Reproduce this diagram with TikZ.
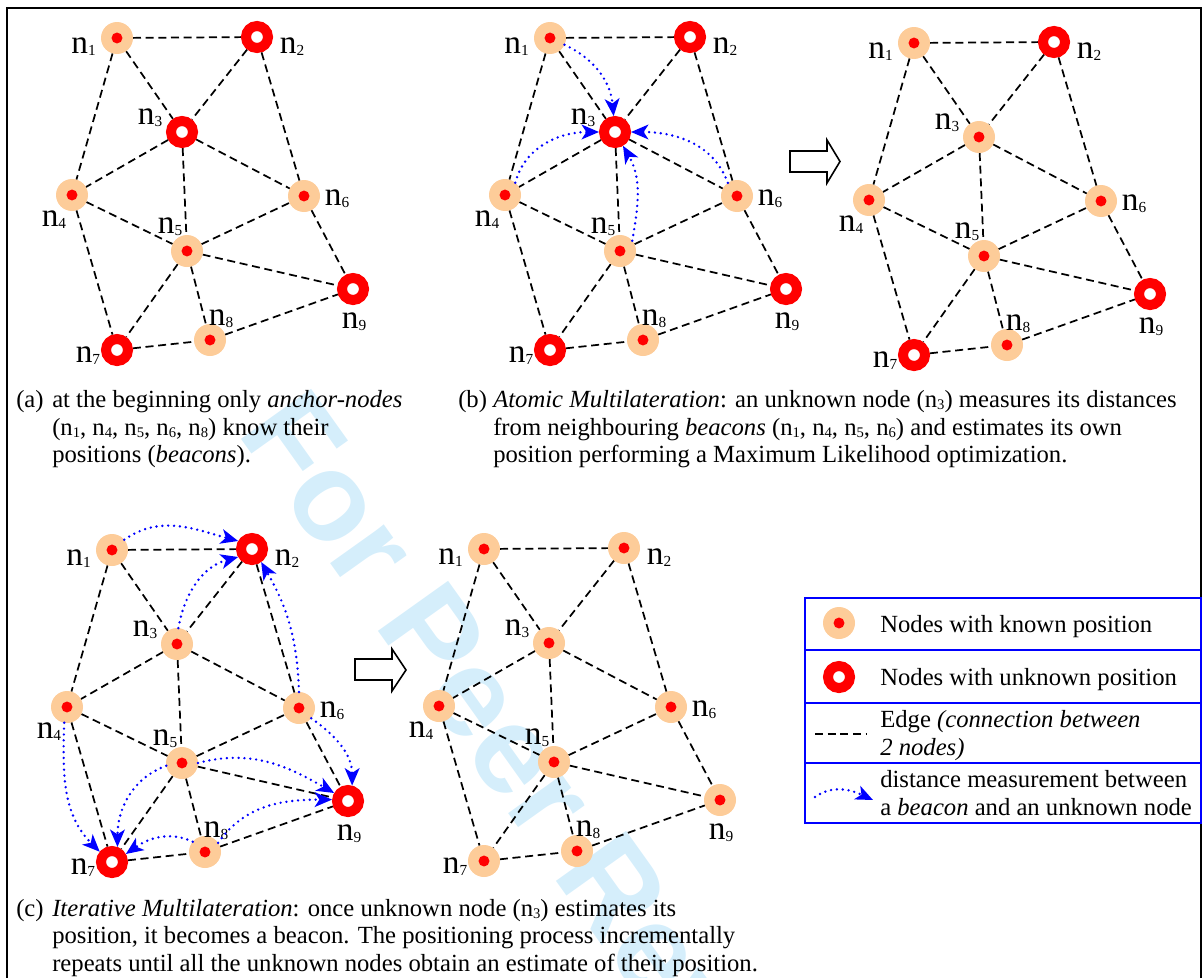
\documentclass[tikz,border=0pt]{standalone}
\usepackage{fontspec}
\setmainfont{Liberation Serif}
\newfontfamily\wmfont{Liberation Sans}
\usetikzlibrary{arrows.meta,backgrounds}
\definecolor{peach}{RGB}{253,204,153}
\definecolor{wmblue}{RGB}{213,238,251}
\newcommand\nsub[1]{n\raisebox{-2pt}{\fontsize{11.5}{12}\selectfont #1}}
\newcommand\csub[1]{\raisebox{-1.5pt}{\fontsize{11}{11}\selectfont #1}}
\def\NX{{117,257,182,72,187,304,117,210,353}}
\def\NY{{38,37,132,195,251,196,350,340,289}}
\def\LX{{-33.5,35,-32,-18,-17,33,-29,11,1}}
\def\LY{{15,16,-8,31,-18,9,12,-15,39}}
\newcommand\drawpanel[3]{%
  \begin{scope}[shift={#2}]
  \foreach \i/\st in {#3}{%
    \pgfmathsetmacro\px{\NX[\i-1]}\pgfmathsetmacro\py{\NY[\i-1]}%
    \pgfmathsetmacro\lx{\px+\LX[\i-1]}\pgfmathsetmacro\ly{\py+\LY[\i-1]}%
    \edef\doit{\noexpand\node[\st] (#1\i) at (\px,\py) {};}\doit
    \node[lab] (#1l\i) at (\lx,\ly) {\nsub{\i}};
  }
  \end{scope}}
\newcommand\drawedges[1]{%
  \foreach \u/\v in {1/2,1/3,1/4,2/3,2/6,3/4,3/5,3/6,4/5,4/7,5/6,5/7,5/8,5/9,6/9,7/8,8/9}{%
    \draw[link] (#1\u) -- (#1\v);}}
\begin{document}
\begin{tikzpicture}[x=0.75pt,y=-0.75pt,
  known/.style={circle, fill=peach, minimum size=24pt, inner sep=0pt, outer sep=0pt,
    path picture={\fill[red] (path picture bounding box.center) circle[radius=4.1pt];}},
  unknown/.style={circle, draw=red, line width=7.5pt, fill=white, minimum size=16.5pt,
    inner sep=0pt, outer sep=3.75pt},
  link/.style={line width=1.3pt, dash pattern=on 6pt off 3.5pt},
  meas/.style={blue, line width=2pt, line cap=round, dash pattern=on 0pt off 4.4pt,
    -{Stealth[length=13pt,width=11pt,inset=3.5pt]}},
  lab/.style={font=\fontsize{25}{25}\selectfont, anchor=base, inner sep=0pt},
  captext/.style={font=\fontsize{18.5}{21}\selectfont, anchor=base west, inner sep=0pt},
  hollow/.style={line width=1.2pt, fill=white, line join=miter}]
\useasboundingbox (0,0) rectangle (1204,978);
% watermark
\begin{scope}[on background layer]
\node[anchor=base west, rotate=-54.5, inner sep=0pt, text=wmblue,
  font=\wmfont\bfseries\fontsize{94}{94}\selectfont] (wm) at (236,432) {For Peer Review};
\end{scope}
% frame
\draw[line width=1.5pt] (7,978) -- (7,8) -- (1201,8) -- (1201,978);
% panels
\drawpanel{a}{(0,0)}{1/known,2/unknown,3/unknown,4/known,5/known,6/known,7/unknown,8/known,9/unknown}
\drawpanel{b}{(433,0)}{1/known,2/unknown,3/unknown,4/known,5/known,6/known,7/unknown,8/known,9/unknown}
\drawpanel{p}{(797,5)}{1/known,2/unknown,3/known,4/known,5/known,6/known,7/unknown,8/known,9/unknown}
\drawpanel{c}{(-5,512)}{1/known,2/unknown,3/known,4/known,5/known,6/known,7/unknown,8/known,9/unknown}
\drawpanel{d}{(367,511)}{1/known,2/known,3/known,4/known,5/known,6/known,7/known,8/known,9/known}
\begin{scope}[on background layer]
\drawedges{a}\drawedges{b}\drawedges{p}\drawedges{c}\drawedges{d}
\end{scope}
% measurement arrows (b)
\draw[meas] (b1.-25) to[out=-25,in=95] (b3);
\draw[meas] (b4.50) to[out=75,in=180] (b3);
\draw[meas] (b5.40) to[out=80,in=-60] (b3);
\draw[meas] (b6.125) to[out=110,in=0] (b3);
% measurement arrows (c)
\draw[meas] (c1.40) to[out=35,in=165] (c2.150);
\draw[meas] (c3.85) to[out=80,in=195] (c2.210);
\draw[meas] (c6.90) to[out=92,in=-60] (c2.-55);
\draw[meas] (c6.-40) to[out=-35,in=90] (c9.75);
\draw[meas] (c5.0) to[out=15,in=150] (c9.150);
\draw[meas] (c8.35) to[out=55,in=180] (c9.175);
\draw[meas] (c5.190) to[out=200,in=90] (c7.70);
\draw[meas] (c8.140) to[out=155,in=35] (c7.30);
\draw[meas] (c4.-100) to[out=-92,in=135] (c7.140);
% hollow arrows
\draw[hollow] (790,151) -- (827,151) -- (827,140) -- (840,161.5) -- (827,183) -- (827,172) -- (790,172) -- cycle;
\draw[hollow] (355,659) -- (392,659) -- (392,649) -- (406,670) -- (392,691) -- (392,680) -- (355,680) -- cycle;
% captions
\node[captext] (capa) at (16,407) {(a)};
\node[captext] (capa1) at (52,407) {at the beginning only \textit{anchor-nodes}};
\node[captext] (capa2) at (52,435) {(n\csub{1}, n\csub{4}, n\csub{5}, n\csub{6}, n\csub{8}) know their};
\node[captext] (capa3) at (52,462) {positions (\textit{beacons}).};
\node[captext] (capb) at (458,407) {(b)};
\node[captext] (capb1) at (493,407) {\textit{Atomic Multilateration}: an unknown node (n\csub{3}) measures its distances};
\node[captext] (capb2) at (493,435) {from neighbouring \textit{beacons} (n\csub{1}, n\csub{4}, n\csub{5}, n\csub{6}) and estimates its own};
\node[captext] (capb3) at (493,462) {position performing a Maximum Likelihood optimization.};
\node[captext] (capc) at (16,916) {(c)};
\node[captext] (capc1) at (52,916) {\textit{Iterative Multilateration}: once unknown node (n\csub{3}) estimates its};
\node[captext] (capc2) at (52,943) {position, it becomes a beacon. The positioning process incrementally};
\node[captext] (capc3) at (52,971) {repeats until all the unknown nodes obtain an estimate of their position.};
% legend
\draw[blue, line width=1.1pt] (805,598) rectangle (1201,823);
\draw[blue, line width=1.1pt] (805,650) -- (1201,650) (805,703) -- (1201,703) (805,763) -- (1201,763);
\node[known] (lk) at (839,623) {};
\node[unknown] (lu) at (839,677) {};
\coordinate (le1) at (815,734); \coordinate (le2) at (866,734);
\draw[link] (le1) -- (le2);
\coordinate (lm1) at (815,797); \coordinate (lm2) at (873,800);
\draw[meas] (lm1) to[out=35,in=155] (lm2);
\node[captext] (lt1) at (880,632) {Nodes with known position};
\node[captext] (lt2) at (880,685) {Nodes with unknown position};
\node[captext] (lt3) at (880,727) {Edge \textit{(connection between}};
\node[captext] (lt3b) at (880,755) {\textit{2 nodes)}};
\node[captext] (lt4) at (880,787) {distance measurement between};
\node[captext] (lt4b) at (880,815) {a \textit{beacon} and an unknown node};
\end{tikzpicture}
\end{document}
